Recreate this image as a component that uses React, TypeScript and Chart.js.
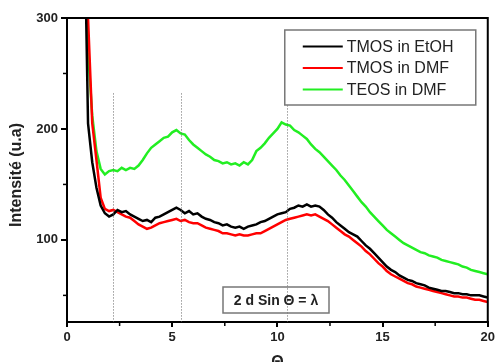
import React, { useEffect, useRef } from "react";
import { Chart, registerables } from "chart.js";

Chart.register(...registerables);

// 2θ-like axis values (shared x grid)
const XS = [
  0.8, 1.0, 1.2, 1.4, 1.6, 1.8, 2.0, 2.2, 2.4, 2.6,
  2.8, 3.0, 3.2, 3.4, 3.6, 3.8, 4.0, 4.2, 4.4, 4.6,
  4.8, 5.0, 5.2, 5.4, 5.6, 5.8, 6.0, 6.2, 6.4, 6.6,
  6.8, 7.0, 7.2, 7.4, 7.6, 7.8, 8.0, 8.2, 8.4, 8.6,
  8.8, 9.0, 9.2, 9.4, 9.6, 9.8, 10.0, 10.2, 10.4, 10.6,
  10.8, 11.0, 11.2, 11.4, 11.6, 11.8, 12.0, 12.2, 12.4, 12.6,
  12.8, 13.0, 13.2, 13.4, 13.6, 13.8, 14.0, 14.2, 14.4, 14.6,
  14.8, 15.0, 15.2, 15.4, 15.6, 15.8, 16.0, 16.2, 16.4, 16.6,
  16.8, 17.0, 17.2, 17.4, 17.6, 17.8, 18.0, 18.2, 18.4, 18.6,
  18.8, 19.0, 19.2, 19.4, 19.6, 19.8, 20.0,
];

const TMOS_ETOH = [
  420, 205, 170, 147, 131, 124, 121, 123, 127, 125,
  126, 123, 121, 119, 117, 118, 116, 120, 121, 123,
  125, 127, 129, 127, 124, 126, 123, 124, 121, 119,
  118, 116, 115, 113, 114, 112, 111, 112, 110, 112,
  113, 114, 116, 117, 119, 121, 123, 124, 125, 128,
  129, 131, 130, 132, 130, 131, 130, 127, 123, 120,
  116, 113, 110, 107, 105, 103, 99, 95, 92, 88,
  84, 80, 76, 73, 71, 68, 66, 64, 63, 61,
  60, 59, 57, 56, 55, 54, 54, 53, 52, 52,
  51, 51, 50, 50, 50, 49, 48,
];

const TMOS_DMF = [
  460, 300, 205, 172, 138, 128, 126, 127, 125, 123,
  121, 120, 117, 114, 112, 110, 111, 113, 115, 116,
  117, 118, 119, 117, 118, 116, 115, 115, 113, 111,
  110, 109, 108, 106, 106, 105, 104, 105, 104, 104,
  105, 106, 106, 108, 110, 112, 114, 116, 118, 119,
  120, 121, 122, 123, 122, 123, 121, 119, 117, 114,
  111, 108, 105, 103, 100, 97, 94, 90, 87, 83,
  79, 76, 72, 69, 67, 65, 63, 61, 60, 58,
  57, 56, 55, 54, 53, 52, 51, 50, 49, 49,
  48, 48, 47, 46, 46, 45, 44,
];

const TEOS_DMF = [
  420, 270, 212, 180, 164, 159, 162, 163, 162, 165,
  163, 165, 164, 167, 172, 178, 183, 186, 189, 192,
  193, 197, 199, 196, 195, 190, 186, 183, 180, 177,
  175, 172, 171, 169, 170, 168, 169, 167, 170, 168,
  172, 180, 183, 187, 192, 196, 200, 206, 204, 203,
  199, 197, 194, 191, 186, 182, 179, 175, 171, 167,
  163, 158, 154, 149, 144, 139, 134, 130, 125, 121,
  117, 113, 109, 106, 103, 100, 97, 95, 93, 91,
  89, 88, 86, 85, 84, 82, 81, 80, 79, 78,
  76, 75, 73, 72, 71, 70, 69,
];

const SERIES_LABELS = ["TMOS in EtOH", "TMOS in DMF", "TEOS in DMF"];
const SERIES_COLORS = ["#000000", "#ff0000", "#22ee22"];

const X_TICKS = [0, 5, 10, 15, 20];
const X_MINOR = [2.5, 7.5, 12.5, 17.5];
const Y_TICKS = [100, 200, 300];
const Y_MINOR = [50, 150, 250];
const MARKERS = [2.2, 5.4, 10.45];
const MARKER_TOP = 232;
const Y_TITLE = "Intensité (u.a)";
const X_TITLE = "Θ";
const EQUATION = "2 d Sin Θ = λ";

const FONT = "'Liberation Sans', Arial, sans-serif";

const overlay = {
  id: "overlay",
  afterDatasetsDraw(chart: any) {
    const { ctx, chartArea: a } = chart;
    const x = chart.scales.x;
    const y = chart.scales.y;
    ctx.save();

    // dotted vertical markers
    ctx.strokeStyle = "#666";
    ctx.lineWidth = 1;
    ctx.setLineDash([1, 2]);
    for (const m of MARKERS) {
      const px = Math.round(x.getPixelForValue(m)) + 0.5;
      ctx.beginPath();
      ctx.moveTo(px, y.getPixelForValue(MARKER_TOP));
      ctx.lineTo(px, a.bottom);
      ctx.stroke();
    }
    ctx.setLineDash([]);

    // frame top and right
    ctx.strokeStyle = "#000";
    ctx.lineWidth = 2;
    ctx.beginPath();
    ctx.moveTo(a.left, a.top);
    ctx.lineTo(a.right, a.top);
    ctx.lineTo(a.right, a.bottom);
    ctx.stroke();

    // minor ticks
    ctx.lineWidth = 1.5;
    for (const v of X_MINOR) {
      const px = x.getPixelForValue(v);
      ctx.beginPath();
      ctx.moveTo(px, a.bottom);
      ctx.lineTo(px, a.bottom + 4);
      ctx.stroke();
    }
    for (const v of Y_MINOR) {
      const py = y.getPixelForValue(v);
      ctx.beginPath();
      ctx.moveTo(a.left, py);
      ctx.lineTo(a.left - 4, py);
      ctx.stroke();
    }

    // legend
    const lx = a.right - 203;
    const ly = a.top + 12;
    const lw = 191;
    const lh = 75;
    ctx.fillStyle = "#fff";
    ctx.fillRect(lx, ly, lw, lh);
    ctx.strokeStyle = "#777";
    ctx.lineWidth = 1.5;
    ctx.strokeRect(lx, ly, lw, lh);
    ctx.font = `16px ${FONT}`;
    ctx.textBaseline = "middle";
    ctx.textAlign = "left";
    SERIES_LABELS.forEach((lab, i) => {
      const ry = ly + 16.5 + i * 21.5;
      ctx.strokeStyle = SERIES_COLORS[i];
      ctx.lineWidth = 2;
      ctx.beginPath();
      ctx.moveTo(lx + 18, ry);
      ctx.lineTo(lx + 58, ry);
      ctx.stroke();
      ctx.fillStyle = "#222";
      ctx.fillText(lab, lx + 62, ry + 1);
    });

    // equation box
    const bx = 223;
    const by = 287;
    const bw = 106;
    const bh = 26;
    ctx.strokeStyle = "#777";
    ctx.lineWidth = 1.5;
    ctx.strokeRect(bx, by, bw, bh);
    ctx.fillStyle = "#222";
    ctx.font = `bold 14px ${FONT}`;
    ctx.textAlign = "center";
    ctx.fillText(EQUATION, bx + bw / 2, by + bh / 2 + 1);

    // axis titles
    ctx.font = `bold 16px ${FONT}`;
    ctx.fillStyle = "#222";
    ctx.save();
    ctx.translate(17, 175);
    ctx.rotate(-Math.PI / 2);
    ctx.textAlign = "center";
    ctx.textBaseline = "middle";
    ctx.fillText(Y_TITLE, 0, 0);
    ctx.restore();
    ctx.textAlign = "center";
    ctx.textBaseline = "middle";
    ctx.fillText(X_TITLE, (a.left + a.right) / 2, 363);

    ctx.restore();
  },
};

export default function App() {
  const ref = useRef<HTMLCanvasElement | null>(null);

  useEffect(() => {
    if (!ref.current) return;
    const mk = (vals: number[]) => XS.map((xv, i) => ({ x: xv, y: vals[i] }));
    const chart = new Chart(ref.current, {
      type: "line",
      data: {
        datasets: [TMOS_ETOH, TMOS_DMF, TEOS_DMF].map((vals, i) => ({
          label: SERIES_LABELS[i],
          data: mk(vals),
          borderColor: SERIES_COLORS[i],
          backgroundColor: SERIES_COLORS[i],
          borderWidth: 2.5,
          pointRadius: 0,
          tension: 0,
          fill: false,
        })),
      },
      options: {
        responsive: false,
        animation: false,
        layout: { padding: { top: 18, right: 8, left: 0, bottom: 0 } },
        plugins: {
          legend: { display: false },
          tooltip: { enabled: false },
        },
        scales: {
          x: {
            type: "linear",
            min: 0,
            max: 20,
            afterBuildTicks: (s: any) => {
              s.ticks = X_TICKS.map((v) => ({ value: v }));
            },
            afterFit: (s: any) => {
              s.height = 40;
            },
            border: { display: true, color: "#000", width: 2 },
            grid: {
              display: true,
              drawOnChartArea: false,
              drawTicks: true,
              tickLength: 5,
              color: "#000",
              lineWidth: 2,
            },
            ticks: {
              font: { family: FONT, size: 13, weight: "bold" },
              color: "#222",
              padding: 3,
              maxRotation: 0,
            },
          },
          y: {
            type: "linear",
            min: 26,
            max: 300,
            afterBuildTicks: (s: any) => {
              s.ticks = Y_TICKS.map((v) => ({ value: v }));
            },
            afterFit: (s: any) => {
              s.width = 67;
            },
            border: { display: true, color: "#000", width: 2 },
            grid: {
              display: true,
              drawOnChartArea: false,
              drawTicks: true,
              tickLength: 6,
              color: "#000",
              lineWidth: 2,
            },
            ticks: {
              font: { family: FONT, size: 13, weight: "bold" },
              color: "#222",
              padding: 3,
            },
          },
        },
      },
      plugins: [overlay],
    } as any);
    return () => chart.destroy();
  }, []);

  return (
    <div style={{ position: "absolute", left: 0, top: 0, width: 498, height: 362, background: "#fff" }}>
      <canvas ref={ref} width={498} height={362} style={{ display: "block" }} />
    </div>
  );
}
